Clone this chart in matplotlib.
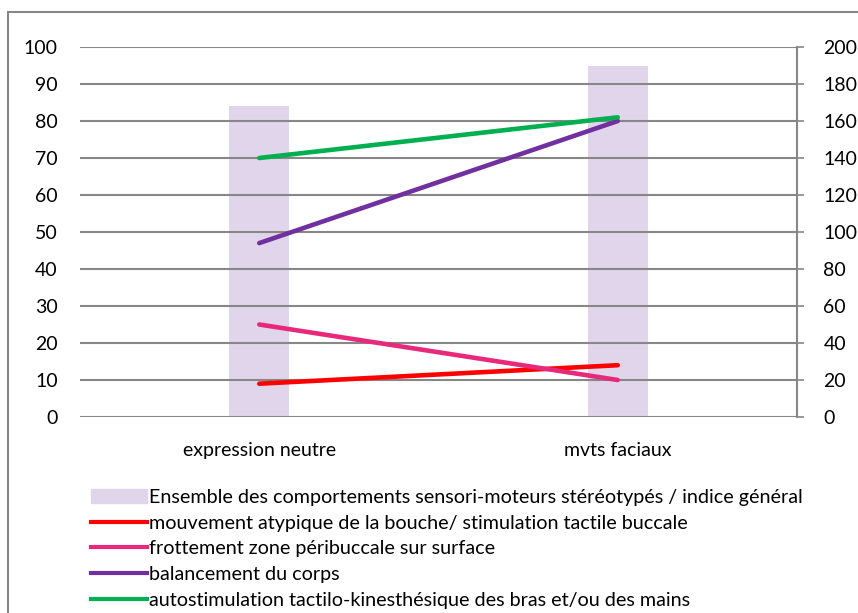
import matplotlib.pyplot as plt
import matplotlib.patches as mpatches
from matplotlib.lines import Line2D
import numpy as np

plt.rcParams['font.family'] = ['Lato', 'DejaVu Sans']

# Data
categories = ['expression neutre', 'mvts faciaux']
ensemble = [168, 190]          # right axis (0-200)
bouche = [9, 14]
frottement = [25, 10]
balancement = [47, 80]
autostim = [70, 81]

labels = ['Ensemble des comportements sensori-moteurs stéréotypés / indice général',
          'mouvement atypique de la bouche/ stimulation tactile buccale',
          'frottement zone péribuccale sur surface',
          'balancement du corps',
          'autostimulation tactilo-kinesthésique des bras et/ou des mains']

bar_color = '#E1D5EB'
line_colors = ['#FF0000', '#E8287B', '#7030A0', '#00B050']
grid_color = '#878787'
fs = 14

fig = plt.figure(figsize=(8.58, 6.13), dpi=100)
W, H = 858, 613

# outer chart border
fig.patches.append(mpatches.Rectangle((8 / W, -0.1), 1.2, (H - 12) / H + 0.1,
                                      transform=fig.transFigure, fill=False,
                                      edgecolor=grid_color, lw=1.5))

# bars axis (secondary scale, drawn first / behind)
ax = fig.add_axes([80 / W, (H - 417) / H, 717 / W, 370 / H])
x = np.arange(len(categories))
ax.bar(x, ensemble, width=0.168, color=bar_color, zorder=1)
ax.set_xlim(-0.5, 1.5)
ax.set_ylim(0, 200)
ax.set_xticks(x)
ax.set_xticklabels(categories)
ax.tick_params(axis='x', length=0, pad=18, labelsize=fs)
ax.set_axisbelow(False)
ax.grid(axis='y', color=grid_color, lw=1.5, zorder=2)
ax.grid(axis='x', visible=False)

# lines axis (primary scale, on top)
ax2 = ax.twinx()
series = [bouche, frottement, balancement, autostim]
for vals, c in zip(series, line_colors):
    ax2.plot(x, vals, color=c, lw=3.3, solid_capstyle='round')
ax2.set_ylim(0, 100)
ax2.set_yticks(np.arange(0, 101, 10))
ax2.yaxis.tick_left()
ax2.tick_params(axis='y', length=0, pad=16, labelsize=fs)
for s in ax2.spines.values():
    s.set_visible(False)

# right axis for the bars
ax.set_yticks(np.arange(0, 201, 20))
ax.yaxis.tick_right()
ax.tick_params(axis='y', direction='out', length=5, width=1.2, color=grid_color,
               pad=14, labelsize=fs, left=False, labelleft=False,
               right=True, labelright=True)
for s in ['left', 'top', 'bottom']:
    ax.spines[s].set_visible(False)
ax.spines['right'].set_visible(True)
ax.spines['right'].set_color(grid_color)
ax.spines['right'].set_linewidth(1.5)

# legend
handles = [mpatches.Patch(color=bar_color)] + \
          [Line2D([], [], color=c, lw=3) for c in line_colors]
fig.legend(handles, labels, loc='upper left', bbox_to_anchor=(91 / W, (H - 489) / H),
           frameon=False, fontsize=14.2, handlelength=2.85, handletextpad=0.1,
           labelspacing=0.44, borderaxespad=0, borderpad=0)

fig.savefig('out.png', dpi=100)
